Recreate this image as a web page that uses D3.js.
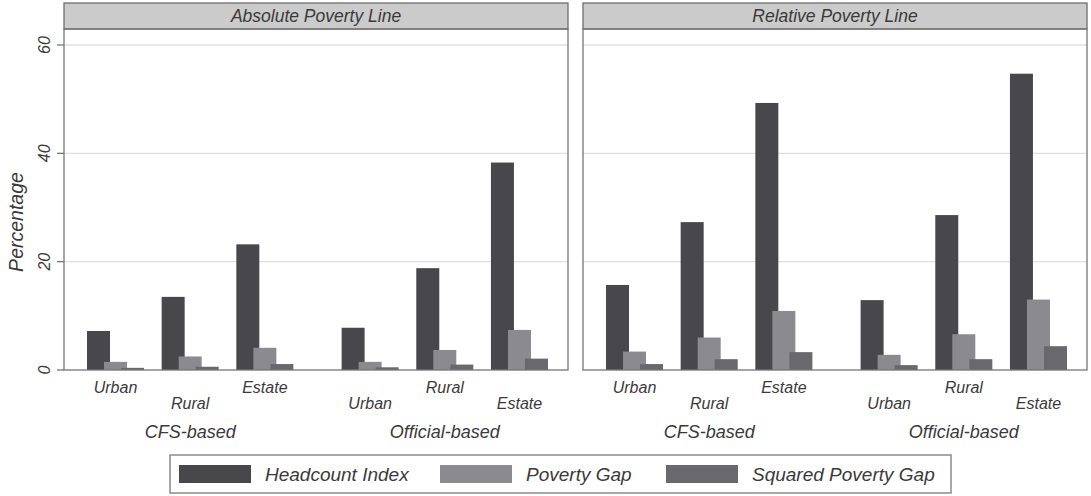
<!DOCTYPE html>
<html>
<head>
<meta charset="utf-8">
<script src="https://cdn.jsdelivr.net/npm/d3@7"></script>
<style>
  html, body { margin: 0; padding: 0; background: #fff; }
  svg { display: block; font-family: "Liberation Sans", Arial, sans-serif; font-style: italic; }
</style>
</head>
<body>
<svg id="chart" width="1091" height="496"></svg>
<script>
// Poverty measures (%) by poverty line, consumption basis and sector
const panels = ["Absolute Poverty Line", "Relative Poverty Line"];
const bases = ["CFS-based", "Official-based"];
const sectors = ["Urban", "Rural", "Estate"];
const seriesNames = ["Headcount Index", "Poverty Gap", "Squared Poverty Gap"];
const yTicks = [0, 20, 40, 60];

// order within each panel: CFS Urban, Rural, Estate, Official Urban, Rural, Estate
const absHeadcount = [7.2, 13.5, 23.2, 7.8, 18.8, 38.3];
const absGap       = [1.5, 2.5, 4.1, 1.5, 3.7, 7.4];
const absSquared   = [0.4, 0.6, 1.1, 0.5, 1.0, 2.1];
const relHeadcount = [15.7, 27.3, 49.3, 12.9, 28.6, 54.7];
const relGap       = [3.4, 6.0, 10.9, 2.8, 6.6, 13.0];
const relSquared   = [1.1, 2.0, 3.3, 0.9, 2.0, 4.4];

const panelSeries = [
  [absHeadcount, absGap, absSquared],
  [relHeadcount, relGap, relSquared]
];
const colors = ["#48484c", "#8b8b8f", "#69696d"];
const textColor = "#3a3a3a";

const svg = d3.select("#chart");
const panelX = [64, 583];
const panelW = 504;
const stripTop = 3, stripBottom = 29, plotBottom = 370;

const y = d3.scaleLinear().domain([0, 60]).range([plotBottom, 45]);

// cluster slot positions: groups separated by a wider gap
const baseGap = 3.41;
const slot = (b, i) => i + b * baseGap;
const x = d3.scaleLinear().domain([-0.69, 6.06]).range([0, panelW]);
const step = x(1) - x(0);
const barW = step * 0.308;
const barStep = step * 0.228;

panels.forEach((title, p) => {
  const g = svg.append("g").attr("transform", `translate(${panelX[p]},0)`);

  // grid lines
  g.selectAll("line.grid").data(yTicks.filter(t => t > 0)).join("line")
    .attr("x1", 0).attr("x2", panelW)
    .attr("y1", d => y(d)).attr("y2", d => y(d))
    .attr("stroke", "#e0e0e0").attr("stroke-width", 1.3);

  // bars
  const rows = [];
  bases.forEach((b, bi) => sectors.forEach((s, si) => {
    seriesNames.forEach((name, k) => {
      rows.push({ k, value: panelSeries[p][k][bi * 3 + si], cx: x(slot(bi, si)) });
    });
  }));
  rows.sort((a, b) => a.k - b.k);
  g.selectAll("rect.bar").data(rows).join("rect")
    .attr("x", d => d.cx + (d.k - 1) * barStep - barW / 2)
    .attr("width", barW)
    .attr("y", d => y(d.value))
    .attr("height", d => y(0) - y(d.value))
    .attr("fill", d => colors[d.k]);

  // header strip
  g.append("rect")
    .attr("x", 0).attr("y", stripTop)
    .attr("width", panelW).attr("height", stripBottom - stripTop)
    .attr("fill", "#cbcbcb").attr("stroke", "#6e6e6e").attr("stroke-width", 1.3);
  g.append("text")
    .attr("x", panelW / 2).attr("y", 22)
    .attr("text-anchor", "middle")
    .attr("font-size", 17.5).attr("fill", textColor)
    .text(title);

  // plot frame
  g.append("rect")
    .attr("x", 0).attr("y", stripBottom)
    .attr("width", panelW).attr("height", plotBottom - stripBottom)
    .attr("fill", "none").attr("stroke", "#767676").attr("stroke-width", 1.3);

  // category labels (staggered) and group labels
  bases.forEach((b, bi) => {
    sectors.forEach((s, si) => {
      const rowUp = (bi === 0) ? (si !== 1) : (si === 1);
      g.append("text")
        .attr("x", x(slot(bi, si)))
        .attr("y", rowUp ? 393 : 409)
        .attr("text-anchor", "middle")
        .attr("font-size", 16).attr("fill", textColor)
        .text(s);
    });
    g.append("text")
      .attr("x", x(slot(bi, 1)))
      .attr("y", 438)
      .attr("text-anchor", "middle")
      .attr("font-size", 18).attr("fill", textColor)
      .text(b);
  });
});

// y axis on the left panel
const yAxis = svg.append("g").attr("transform", `translate(${panelX[0]},0)`);
yAxis.selectAll("line.tick").data(yTicks).join("line")
  .attr("x1", -7).attr("x2", 0)
  .attr("y1", d => y(d)).attr("y2", d => y(d))
  .attr("stroke", "#767676").attr("stroke-width", 1.3);
yAxis.selectAll("text.tick").data(yTicks).join("text")
  .attr("transform", d => `translate(-14,${y(d)}) rotate(-90)`)
  .attr("text-anchor", "middle")
  .attr("font-size", 16).attr("fill", textColor)
  .text(d => d);
svg.append("text")
  .attr("transform", `translate(23,222) rotate(-90)`)
  .attr("text-anchor", "middle")
  .attr("font-size", 19.5).attr("fill", textColor)
  .text("Percentage");

// legend
const legend = svg.append("g");
legend.append("rect")
  .attr("x", 170).attr("y", 455).attr("width", 781).attr("height", 38)
  .attr("fill", "#fff").attr("stroke", "#7a7a7a").attr("stroke-width", 1.3);
const keyX = [179, 440, 666];
seriesNames.forEach((name, k) => {
  legend.append("rect")
    .attr("x", keyX[k]).attr("y", 465).attr("width", 72).attr("height", 18)
    .attr("fill", colors[k]);
  legend.append("text")
    .attr("x", keyX[k] + 86).attr("y", 481)
    .attr("font-size", 19).attr("fill", textColor)
    .text(name);
});
</script>
</body>
</html>
